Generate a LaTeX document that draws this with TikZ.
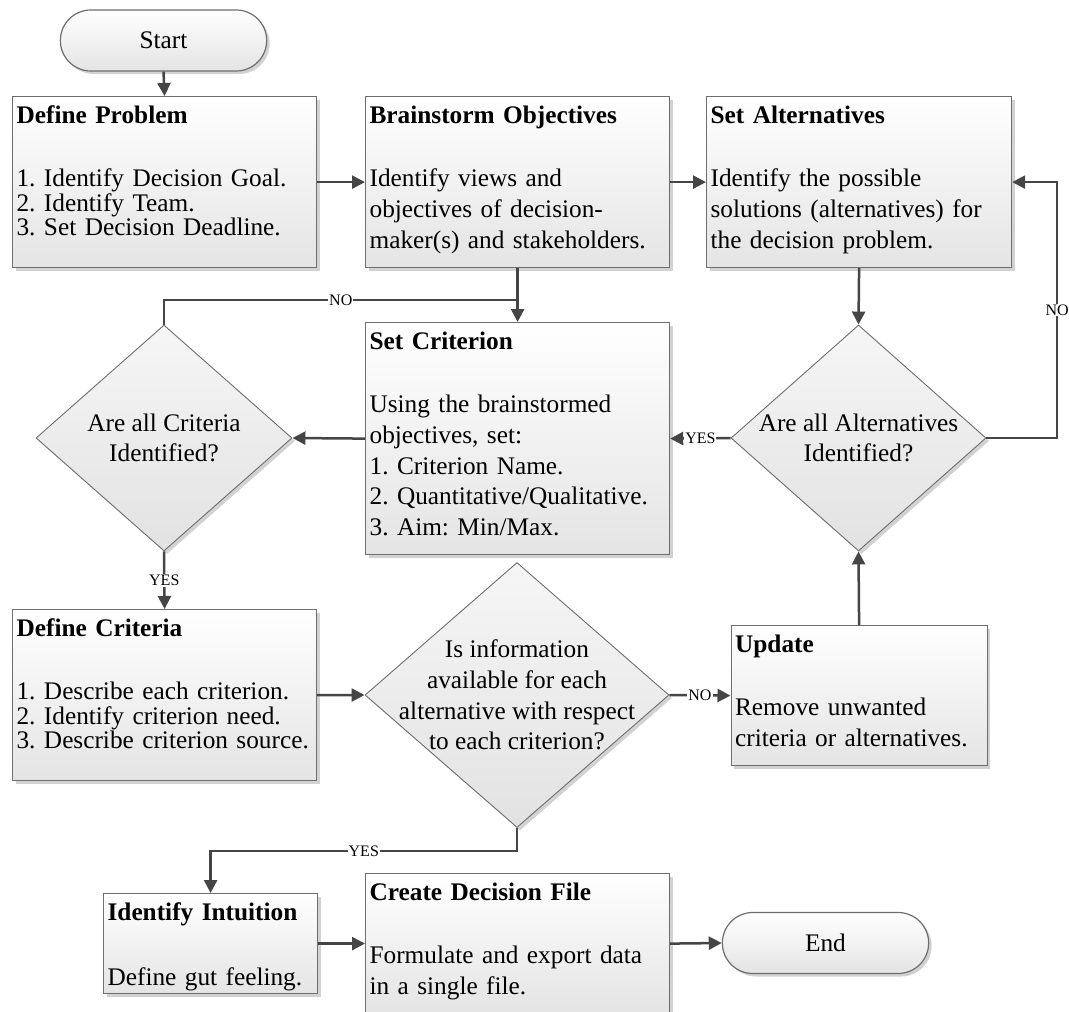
\documentclass[tikz,border=0pt]{standalone}
\usepackage{fontspec}
\setmainfont{Liberation Serif}
\usepackage{tikz}
\usetikzlibrary{calc,arrows.meta,shapes.geometric,shapes.misc,shadows}
\frenchspacing
\definecolor{boxline}{HTML}{6E6E6E}
\definecolor{arrowgray}{HTML}{454545}
\definecolor{boxbottom}{HTML}{E4E4E4}
\definecolor{decisiontop}{HTML}{F6F6F6}
\definecolor{decisionbottom}{HTML}{E2E2E2}
\definecolor{shadowgray}{HTML}{D2D2D2}
\newcommand{\bodyfont}{\fontsize{25.3}{30.7}\selectfont}
\newcommand{\listfont}{\fontsize{25.3}{24.5}\selectfont}
\newcommand{\labelfont}{\fontsize{16}{16}\selectfont}
\newcommand{\thickness}{2.5pt}

\tikzset{
  procbox/.style={draw=boxline, line width=1.2pt, top color=white, bottom color=boxbottom,
    anchor=north west, align=left, inner xsep=4pt, inner ysep=0pt, text height=27pt,
    font=\bodyfont, drop shadow={shadow xshift=3pt, shadow yshift=-3pt, fill=shadowgray, opacity=1}},
  decision/.style={diamond, draw=boxline, line width=.9pt, top color=decisiontop, bottom color=decisionbottom,
    inner sep=0pt, drop shadow={shadow xshift=3pt, shadow yshift=-3pt, fill=shadowgray, opacity=1}},
  dectext/.style={font=\bodyfont, align=center, inner sep=0pt},
  terminal/.style={rounded rectangle, draw=boxline, line width=1.2pt, top color=white, bottom color=boxbottom,
    minimum width=213pt, minimum height=61pt, font=\bodyfont,
    drop shadow={shadow xshift=3pt, shadow yshift=-3pt, fill=shadowgray, opacity=1}},
  conn/.style={draw=arrowgray, line width=\thickness},
  connarrow/.style={conn, -{Triangle[length=13pt,width=13pt]}},
  lbl/.style={font=\labelfont, fill=white, inner sep=1pt},
}

\begin{document}
\begin{tikzpicture}[x=1pt, y=-1pt]
\useasboundingbox (0,0) rectangle (1069,1012);
%row 1
\node[terminal] (start) at (163.5,40.5) {Start};
\node[procbox, font=\listfont, text width=296pt, text depth=144pt] (defprob) at (12,96)
  {\textbf{Define Problem}\\[38.5pt]1. Identify Decision Goal.\\2. Identify Team.\\3. Set Decision Deadline.};
\node[procbox, text width=296pt, text depth=144pt] (brain) at (365,96)
  {\textbf{Brainstorm Objectives}\\[32.3pt]Identify views and\\objectives of decision-\\maker(s) and stakeholders.};
\node[procbox, text width=297pt, text depth=144pt] (setalt) at (706,96)
  {\textbf{Set Alternatives}\\[32.3pt]Identify the possible\\solutions (alternatives) for\\the decision problem.};
%row 2
\node[decision, minimum width=256pt, minimum height=226pt] (critq) at (164,438) {};
\node[dectext] (critqtxt) at (critq) {Are all Criteria\\Identified?};
\node[procbox, text width=296pt, text depth=205pt] (setcrit) at (365,322)
  {\textbf{Set Criterion}\\[32.3pt]Using the brainstormed\\objectives, set:\\1. Criterion Name.\\2. Quantitative/Qualitative.\\3. Aim: Min/Max.};
\node[decision, minimum width=255pt, minimum height=226pt] (altq) at (858.5,438) {};
\node[dectext] (altqtxt) at (altq) {Are all Alternatives\\Identified?};
%row 3
\node[procbox, font=\listfont, text width=296pt, text depth=144pt] (defcrit) at (12,609)
  {\textbf{Define Criteria}\\[38.5pt]1. Describe each criterion.\\2. Identify criterion need.\\\mbox{3. Describe criterion source.}};
\node[decision, minimum width=304pt, minimum height=265pt] (infoq) at (517,695) {};
\node[dectext] (infoqtxt) at (infoq) {Is information\\available for each\\alternative with respect\\to each criterion?};
\node[procbox, text width=248pt, text depth=113pt] (upd) at (730.5,625)
  {\textbf{Update}\\[32.3pt]Remove unwanted\\criteria or alternatives.};
%row 4
\node[procbox, text width=206pt, text depth=73pt] (intu) at (103,893)
  {\textbf{Identify Intuition}\\[34pt]Define gut feeling.};
\node[procbox, text width=296pt, text depth=113pt] (create) at (365,873)
  {\textbf{Create Decision File}\\[32.3pt]Formulate and export data\\in a single file.};
\node[terminal] (endt) at (825.5,943) {End};
%helpers
\coordinate (nojoin) at ($(brain.south)+(0,32)$);
\coordinate (altret) at ($(setalt.east)+(45,0)$);
%connectors
\draw[connarrow] (start.south) -- (defprob.north);
\draw[connarrow] (defprob.east) -- (brain.west);
\draw[connarrow] (brain.east) -- (setalt.west);
\draw[connarrow] (brain.south) -- (setcrit.north);
\draw[conn] (critq.north) |- node[lbl, pos=.75] {NO} (nojoin);
\draw[connarrow] (setalt.south) -- (altq.north);
\draw[connarrow] (altq.west) -- node[lbl] {YES} (setcrit.east);
\draw[connarrow] (altq.east) -| node[lbl, pos=.75] {NO} (altret) -- (setalt.east);
\draw[connarrow] (setcrit.west) -- (critq.east);
\draw[connarrow] (critq.south) -- node[lbl] {YES} (defcrit.north);
\draw[connarrow] (defcrit.east) -- (infoq.west);
\draw[connarrow] (infoq.east) -- node[lbl] {NO} (upd.west);
\draw[connarrow] (upd.north) -- (altq.south);
\draw[connarrow] (infoq.south) -- ++(0,23) -| node[lbl, pos=.25] {YES} (intu.north);
\draw[connarrow] (intu.east) -- (create.west);
\draw[connarrow] (create.east) -- (endt.west);
\end{tikzpicture}
\end{document}
